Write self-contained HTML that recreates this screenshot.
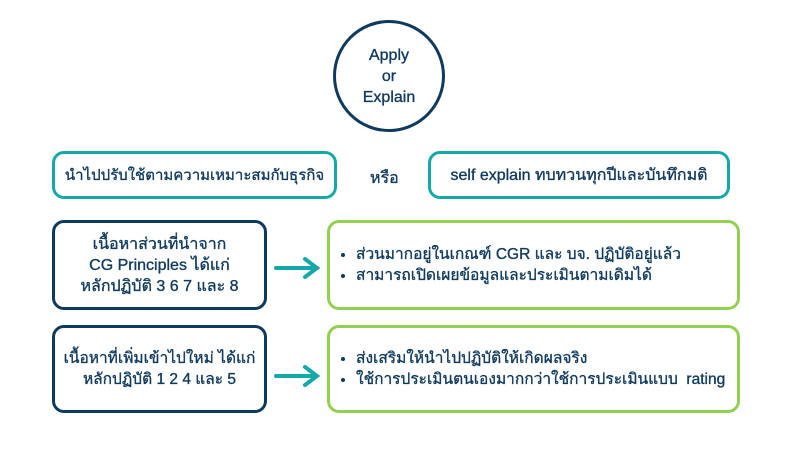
<!DOCTYPE html>
<html><head><meta charset="utf-8"><style>
body{margin:0;width:787px;height:468px;background:#fff;position:relative;overflow:hidden;font-family:"Liberation Sans",sans-serif;color:#0e3a5e;-webkit-text-stroke:0.35px #0e3a5e}
.b{position:absolute;box-sizing:border-box;border-radius:12px;display:flex;align-items:center;justify-content:center;text-align:center;font-size:16px;line-height:21px;white-space:nowrap}
.t{border:3.5px solid #14a9a8}
.n{border:3.5px solid #0e3a5e}
.g{border:3.5px solid #92d050;justify-content:flex-start;text-align:left;padding-left:10px;font-size:15.5px}
ul{margin:0;padding-left:16px}
</style></head><body>
<div style="position:absolute;left:333px;top:20px;width:112px;height:112px;box-sizing:border-box;border:3.5px solid #0e3a5e;border-radius:50%;display:flex;align-items:center;justify-content:center;text-align:center;font-size:16px;line-height:21px">Apply<br>or<br>Explain</div>
<div class="b t" style="left:52px;top:151px;width:285px;height:48px;font-size:15px">นำไปปรับใช้ตามความเหมาะสมกับธุรกิจ</div>
<div style="position:absolute;left:370px;top:166px;font-size:16px">หรือ</div>
<div class="b t" style="left:428px;top:151px;width:302px;height:48px">self explain ทบทวนทุกปีและบันทึกมติ</div>
<div class="b n" style="left:52px;top:220px;width:215px;height:90px">เนื้อหาส่วนที่นำจาก<br>CG Principles ได้แก่<br>หลักปฏิบัติ 3 6 7 และ 8</div>
<div class="b g" style="left:327px;top:220px;width:413px;height:90px"><ul><li>ส่วนมากอยู่ในเกณฑ์ CGR และ บจ. ปฏิบัติอยู่แล้ว</li><li>สามารถเปิดเผยข้อมูลและประเมินตามเดิมได้</li></ul></div>
<div class="b n" style="left:52px;top:325px;width:215px;height:88px;font-size:15.5px">เนื้อหาที่เพิ่มเข้าไปใหม่ ได้แก่<br>หลักปฏิบัติ 1 2 4 และ 5</div>
<div class="b g" style="left:327px;top:325px;width:413px;height:88px"><ul><li>ส่งเสริมให้นำไปปฏิบัติให้เกิดผลจริง</li><li>ใช้การประเมินตนเองมากกว่าใช้การประเมินแบบ &nbsp;rating</li></ul></div>
<svg style="position:absolute;left:0;top:0" width="787" height="468">
<g stroke="#14a9a8" stroke-width="4" fill="none" stroke-linecap="round">
<line x1="276" y1="268" x2="316" y2="268"/><polyline points="305,259 317,268 305,277"/>
<line x1="276" y1="376" x2="316" y2="376"/><polyline points="305,367 317,376 305,385"/>
</g></svg>
</body></html>
